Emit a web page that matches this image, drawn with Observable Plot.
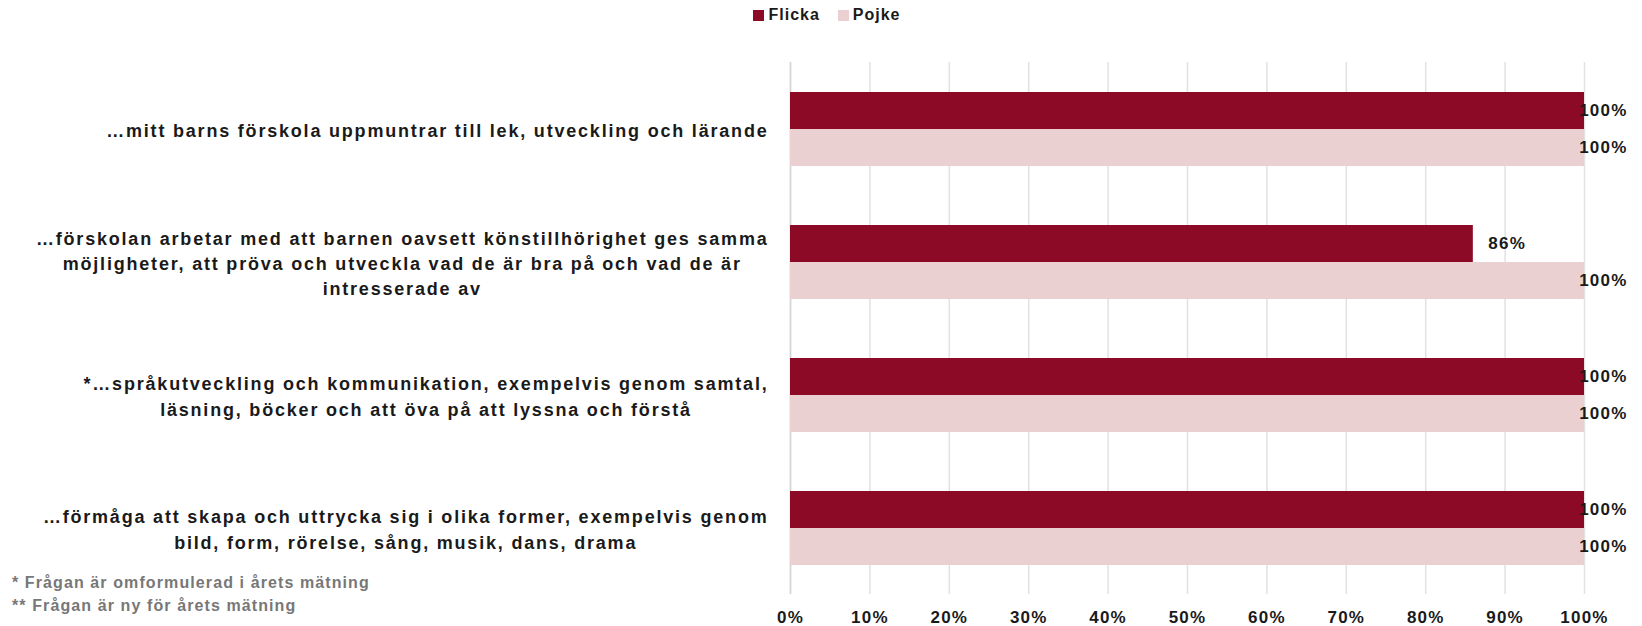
<!DOCTYPE html>
<html>
<head>
<meta charset="utf-8">
<script src="https://cdn.jsdelivr.net/npm/d3@7"></script>
<script src="https://cdn.jsdelivr.net/npm/@observablehq/plot@0.6"></script>
<style>
  body { margin: 0; background: #fff; font-family: "Liberation Sans", Arial, sans-serif; }
  #wrap { position: relative; width: 1642px; height: 626px; }
  #legend { height: 30px; display: flex; justify-content: center; align-items: center; gap: 18px; font-size: 16px; font-weight: bold; letter-spacing: 1px; color: #1a1a1a; padding-left: 12px; box-sizing: border-box; }
  #legend .item { display: flex; align-items: center; gap: 4px; }
  #legend .sw { width: 11px; height: 11px; display: inline-block; }
  #notes { position: absolute; left: 12px; top: 571px; font-size: 16px; line-height: 23px; color: #777; font-weight: bold; letter-spacing: 1.1px; }
</style>
</head>
<body>
<div id="wrap">
  <div id="legend"></div>
  <div id="chart"></div>
  <div id="notes"></div>
</div>
<script>
const categories = [
  "…mitt barns förskola uppmuntrar till lek, utveckling och lärande",
  "…förskolan arbetar med att barnen oavsett könstillhörighet ges samma möjligheter, att pröva och utveckla vad de är bra på och vad de är intresserade av",
  "*…språkutveckling och kommunikation, exempelvis genom samtal, läsning, böcker och att öva på att lyssna och förstå",
  "…förmåga att skapa och uttrycka sig i olika former, exempelvis genom bild, form, rörelse, sång, musik, dans, drama"
];
const categoryLabels = [
  "…mitt barns förskola uppmuntrar till lek, utveckling och lärande",
  "…förskolan arbetar med att barnen oavsett könstillhörighet ges samma\nmöjligheter, att pröva och utveckla vad de är bra på och vad de är\nintresserade av",
  "*…språkutveckling och kommunikation, exempelvis genom samtal,\nläsning, böcker och att öva på att lyssna och förstå",
  "…förmåga att skapa och uttrycka sig i olika former, exempelvis genom\nbild, form, rörelse, sång, musik, dans, drama"
];
const series = ["Flicka", "Pojke"];
const seriesColors = ["#8C0A26", "#EBD0D1"];
const flicka = [1.00, 0.86, 1.00, 1.00];
const pojke  = [1.00, 1.00, 1.00, 1.00];
const xTicks = [0, 0.1, 0.2, 0.3, 0.4, 0.5, 0.6, 0.7, 0.8, 0.9, 1.0];
const footnotes = ["* Frågan är omformulerad i årets mätning", "** Frågan är ny för årets mätning"];

const rows = [];
categories.forEach((c, i) => {
  rows.push({question: c, gender: "Flicka", value: flicka[i]});
  rows.push({question: c, gender: "Pojke", value: pojke[i]});
});
const labelOf = new Map(categories.map((c, i) => [c, categoryLabels[i]]));
const pct = d3.format(".0%");

// legend
const legend = document.getElementById("legend");
series.forEach((s, i) => {
  const it = document.createElement("span");
  it.className = "item";
  it.innerHTML = `<span class="sw" style="background:${seriesColors[i]}"></span><span>${s}</span>`;
  legend.appendChild(it);
});
document.getElementById("notes").innerHTML = footnotes.join("<br>");

const chart = Plot.plot({
  width: 1642,
  height: 596,
  marginTop: 32,
  marginBottom: 32,
  marginLeft: 790,
  marginRight: 58,
  style: {fontFamily: "'Liberation Sans', Arial, sans-serif", fontSize: "18px", fontWeight: "bold", color: "#1a1a1a", letterSpacing: "1.2px", overflow: "visible"},
  x: {domain: [0, 1], axis: null, label: null},
  y: {domain: series, axis: null, label: null, paddingInner: 0, paddingOuter: 0.77},
  fy: {domain: categories, padding: 0, axis: null, label: null},
  color: {domain: series, range: seriesColors},
  marks: [
    Plot.gridX(xTicks, {stroke: "#e2e2e2", strokeOpacity: 1, strokeWidth: 1.5}),
    Plot.ruleX([0], {stroke: "#d4d4d4", strokeWidth: 1.5}),
    Plot.barX(rows, {x1: 0, x2: "value", y: "gender", fy: "question", fill: "gender"}),
    Plot.text(rows.filter(d => d.value < 0.95), {x: "value", y: "gender", fy: "question", text: d => pct(d.value), textAnchor: "start", dx: 15, fill: "#1a1a1a", fontSize: 17}),
    Plot.text(rows.filter(d => d.value >= 0.95), {x: "value", y: "gender", fy: "question", text: d => pct(d.value), textAnchor: "end", dx: 43, fill: "#1a1a1a", fontSize: 17}),
    Plot.axisX(xTicks, {anchor: "bottom", tickSize: 0, tickPadding: 16, tickFormat: pct, fontSize: 17, label: null}),
    Plot.axisFy({anchor: "left", tickSize: 0, tickPadding: 22, tickFormat: d => labelOf.get(d), lineHeight: 1.4, fontSize: 18, label: null, style: {letterSpacing: "1.8px"}})
  ]
});
document.getElementById("chart").appendChild(chart);

chart.querySelectorAll('g[aria-label="fy-axis tick label"]').forEach(g => g.style.letterSpacing = "1.8px");
// center the lines of each multi-line category label within its block (right edge kept)
chart.querySelectorAll('g[aria-label="fy-axis tick label"] text').forEach(t => {
  const spans = t.querySelectorAll("tspan");
  if (spans.length < 2) return;
  const w = t.getBBox().width;
  t.setAttribute("text-anchor", "middle");
  spans.forEach(s => s.setAttribute("x", -w / 2));
});
</script>
</body>
</html>
